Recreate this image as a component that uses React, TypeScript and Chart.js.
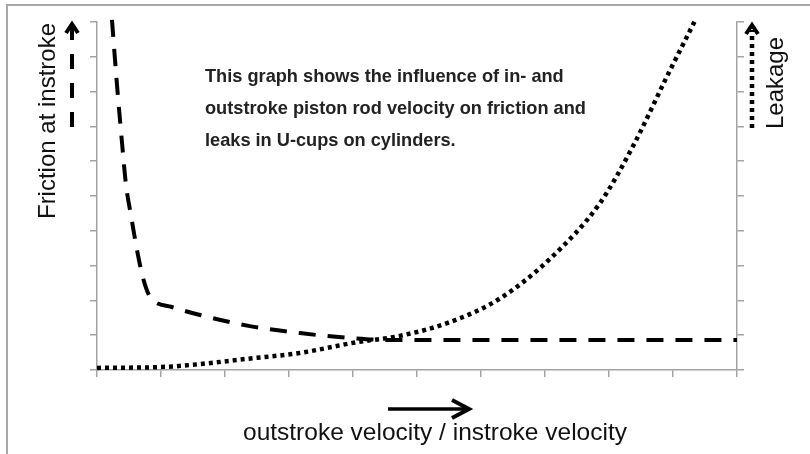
import React, { useEffect, useRef } from "react";
import { Chart, registerables } from "chart.js";

Chart.register(...registerables);

// Friction at instroke (dashed) – x: velocity ratio units, y: relative friction units
const frictionX = [0.234, 0.3125, 0.39, 0.453, 0.53, 0.625, 0.72, 0.83, 1.17, 1.61, 2.39, 3.17, 3.95, 4.58, 10];
const frictionY = [10.06, 8.19, 6.55, 5.32, 4.45, 3.45, 2.64, 2.1, 1.81, 1.58, 1.26, 1.06, 0.92, 0.86, 0.86];

// Leakage (dotted)
const leakageX = [0, 1.06, 1.61, 2.34, 3.17, 4.06, 4.73, 5.52, 6.3, 7.08, 7.86, 8.38, 8.91, 9.35];
const leakageY = [0.06, 0.09, 0.17, 0.32, 0.49, 0.8, 0.98, 1.38, 2.06, 3.2, 4.8, 6.45, 8.45, 10.06];

const xMin = 0;
const xMax = 10;
const yMin = 0;
const yMax = 10;

const leftLabel = "Friction at instroke";
const rightLabel = "Leakage";
const bottomLabel = "outstroke velocity / instroke velocity";
const noteLines = [
  "This graph shows the influence of in- and",
  "outstroke piston rod velocity on friction and",
  "leaks in U-cups on cylinders.",
];

const AXIS_COLOR = "#a3a3a3";
const FONT = "'Liberation Sans', Arial, Helvetica, sans-serif";

function chevronUp(ctx: CanvasRenderingContext2D, x: number, y: number, w: number, h: number) {
  ctx.beginPath();
  ctx.moveTo(x - w, y + h);
  ctx.lineTo(x, y);
  ctx.lineTo(x + w, y + h);
  ctx.stroke();
}

const decor = {
  id: "decor",
  afterDraw(chart: any) {
    const ctx: CanvasRenderingContext2D = chart.ctx;
    const area = chart.chartArea;
    ctx.save();

    // outer frame (left + top)
    ctx.strokeStyle = "#a8a8a8";
    ctx.lineWidth = 2;
    ctx.setLineDash([]);
    ctx.beginPath();
    ctx.moveTo(7, chart.height);
    ctx.lineTo(7, 5);
    ctx.lineTo(chart.width, 5);
    ctx.stroke();

    ctx.strokeStyle = "#000";
    ctx.lineCap = "butt";
    ctx.lineJoin = "miter";

    // left dashed arrow
    const lx = area.left - 25;
    ctx.lineWidth = 4;
    ctx.setLineDash([15, 14]);
    ctx.beginPath();
    ctx.moveTo(lx, area.top + 105);
    ctx.lineTo(lx, area.top + 15);
    ctx.stroke();
    ctx.setLineDash([]);
    ctx.beginPath();
    ctx.moveTo(lx, area.top + 15);
    ctx.lineTo(lx, area.top + 3);
    ctx.stroke();
    ctx.lineWidth = 4;
    chevronUp(ctx, lx, area.top + 2, 6, 9);

    // right dotted arrow
    const rx = area.right + 15;
    ctx.lineWidth = 4.5;
    ctx.setLineDash([4, 4]);
    ctx.beginPath();
    ctx.moveTo(rx, area.top + 106);
    ctx.lineTo(rx, area.top + 8);
    ctx.stroke();
    ctx.setLineDash([]);
    ctx.lineWidth = 4;
    chevronUp(ctx, rx, area.top + 3, 6, 9);

    // bottom solid arrow
    const by = area.bottom + 39;
    ctx.lineWidth = 3.5;
    ctx.beginPath();
    ctx.moveTo(388, by);
    ctx.lineTo(468, by);
    ctx.stroke();
    ctx.lineWidth = 4;
    ctx.beginPath();
    ctx.moveTo(452, by - 9);
    ctx.lineTo(469, by);
    ctx.lineTo(452, by + 9);
    ctx.stroke();

    // axis labels
    ctx.fillStyle = "#111";
    ctx.font = `24px ${FONT}`;
    ctx.textBaseline = "alphabetic";
    ctx.textAlign = "center";
    ctx.save();
    ctx.translate(55, 121);
    ctx.rotate(-Math.PI / 2);
    ctx.fillText(leftLabel, 0, 0);
    ctx.restore();

    ctx.save();
    ctx.translate(783, 83);
    ctx.rotate(-Math.PI / 2);
    ctx.fillText(rightLabel, 0, 0);
    ctx.restore();

    ctx.textAlign = "left";
    ctx.font = `24.5px ${FONT}`;
    ctx.fillText(bottomLabel, 243, 440);

    // annotation
    ctx.fillStyle = "#222";
    ctx.font = `bold 18.2px ${FONT}`;
    noteLines.forEach((line, i) => {
      ctx.fillText(line, 205, 82 + i * 32);
    });

    ctx.restore();
  },
};

function axis(position: string) {
  return {
    type: "linear",
    position,
    min: position === "bottom" ? xMin : yMin,
    max: position === "bottom" ? xMax : yMax,
    ticks: { display: false, stepSize: 1 },
    grid: {
      drawOnChartArea: false,
      drawTicks: true,
      tickLength: 7,
      color: AXIS_COLOR,
      lineWidth: 1.5,
    },
    border: { display: true, color: AXIS_COLOR, width: 1.5 },
  };
}

export default function App() {
  const ref = useRef<HTMLCanvasElement>(null);

  useEffect(() => {
    const canvas = ref.current;
    if (!canvas) return;
    const chart = new Chart(canvas, {
      type: "line",
      data: {
        datasets: [
          {
            label: leftLabel,
            data: frictionX.map((x, i) => ({ x, y: frictionY[i] })),
            borderColor: "#000",
            borderWidth: 4,
            borderDash: [17, 12],
            borderCapStyle: "butt",
            pointRadius: 0,
            cubicInterpolationMode: "monotone",
            fill: false,
            clip: false,
            yAxisID: "y",
          },
          {
            label: rightLabel,
            data: leakageX.map((x, i) => ({ x, y: leakageY[i] })),
            borderColor: "#000",
            borderWidth: 4.5,
            borderDash: [4, 4],
            borderCapStyle: "butt",
            pointRadius: 0,
            cubicInterpolationMode: "monotone",
            fill: false,
            clip: false,
            yAxisID: "y2",
          },
        ],
      } as any,
      options: {
        responsive: false,
        animation: false,
        devicePixelRatio: 1,
        layout: { padding: { left: 90, right: 66, top: 22, bottom: 77 }, autoPadding: false },
        plugins: { legend: { display: false }, tooltip: { enabled: false }, title: { display: false } },
        scales: {
          x: axis("bottom"),
          y: axis("left"),
          y2: axis("right"),
        },
      } as any,
      plugins: [decor],
    });
    return () => chart.destroy();
  }, []);

  return (
    <div style={{ position: "fixed", left: 0, top: 0, width: 810, height: 454, background: "#fff" }}>
      <canvas ref={ref} width={810} height={454} style={{ display: "block" }} />
    </div>
  );
}
